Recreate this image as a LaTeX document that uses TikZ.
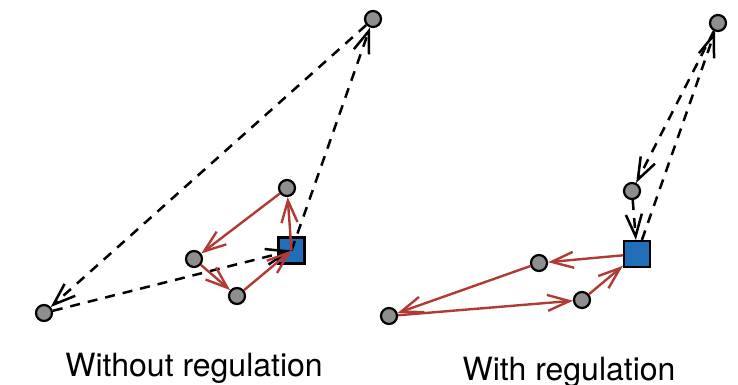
\documentclass[tikz,border=0pt]{standalone}
\usepackage{fontspec}
\setmainfont{TeX Gyre Heros}
\usetikzlibrary{arrows.meta}
\definecolor{nodegray}{RGB}{142,142,142}
\definecolor{sqblue}{RGB}{33,110,184}
\definecolor{edgered}{RGB}{178,58,52}
\begin{document}
\begin{tikzpicture}[x=1pt,y=-1pt,
 circ/.style={circle,draw=black,fill=nodegray,line width=2.2pt,minimum size=16pt,inner sep=0pt},
 sq/.style={rectangle,draw=black,fill=sqblue,line width=2.2pt,minimum size=26pt,inner sep=0pt},
 tiparrow/.style={-{Straight Barb[length=22pt,width=16pt]}},
 dashedge/.style={tiparrow,black,line width=2.5pt,dash pattern=on 10pt off 8pt},
 rededge/.style={tiparrow,edgered,line width=2.4pt},
 lab/.style={font=\fontsize{32}{36}\selectfont,anchor=base,inner sep=0pt}]
\useasboundingbox (0,0) rectangle (738,384);
% left panel
\node[circ] (T1) at (373,19) {};
\node[circ] (A) at (287,188) {};
\node[sq] (S1) at (291.5,250.5) {};
\node[circ] (B) at (194,259) {};
\node[circ] (C) at (237,296) {};
\node[circ] (D) at (44,313) {};
\draw[dashedge] (T1) -- (D);
\draw[dashedge] (D) -- (S1.center);
\draw[dashedge] (S1.center) -- (T1);
\draw[rededge] (S1.center) -- (A);
\draw[rededge] (A) -- (B);
\draw[rededge] (B) -- (C);
\draw[rededge] (C) -- (S1.center);
% right panel
\node[circ] (T2) at (718,23) {};
\node[circ] (E) at (632,191) {};
\node[sq] (S2) at (637,254) {};
\node[circ] (F) at (539,263) {};
\node[circ] (G) at (389,316) {};
\node[circ] (H) at (582,300) {};
\draw[dashedge] (T2) -- (E);
\draw[dashedge] (E) -- (S2);
\draw[dashedge] (S2) -- (T2);
\draw[rededge] (S2) -- (F);
\draw[rededge] (F) -- (G);
\draw[rededge] (G) -- (H);
\draw[rededge] (H) -- (S2);
% labels
\node[lab] (L1) at (194,376) {Without regulation};
\node[lab] (L2) at (569,380) {With regulation};
\end{tikzpicture}
\end{document}
